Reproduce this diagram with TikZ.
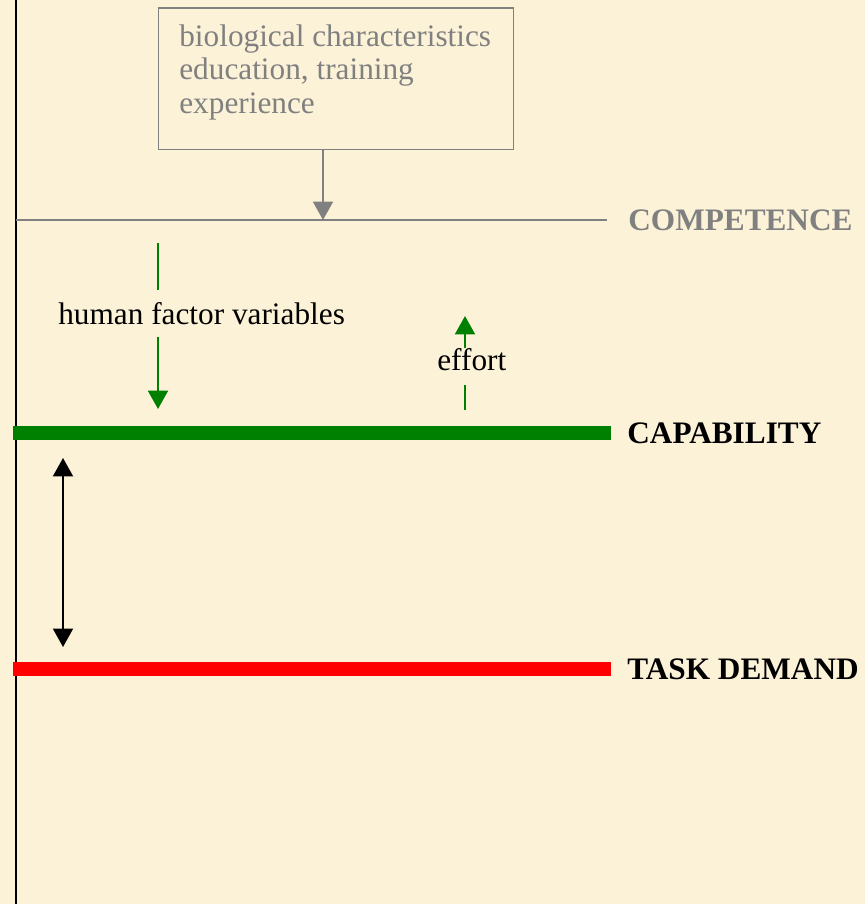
\documentclass[tikz,border=0pt]{standalone}
\usepackage{fontspec}
\setmainfont{Liberation Serif}
\usepackage{xcolor}
\usepackage{tikz}
\usetikzlibrary{arrows.meta,positioning}
\definecolor{parchment}{RGB}{252,242,216}
\definecolor{fadedgray}{RGB}{128,128,128}
\definecolor{capgreen}{RGB}{0,128,0}
\definecolor{taskred}{RGB}{255,0,0}

\begin{document}
\begin{tikzpicture}[
    x=0.02cm, y=-0.02cm,
    every node/.style={font=\fontsize{17.8}{19.3}\selectfont},
    level/.style={anchor=west, inner sep=0pt, font=\bfseries\fontsize{17.8}{19.3}\selectfont},
    sourcebox/.style={draw=fadedgray, line width=0.85pt, anchor=north west, minimum width=7.1cm, minimum height=2.84cm, inner sep=0pt},
    sourcetext/.style={anchor=north west, align=left, inner sep=0pt, text=fadedgray, font=\fontsize{17.8}{19.3}\selectfont},
    inlinelabel/.style={anchor=base west, inner xsep=0pt},
    greyline/.style={draw=fadedgray, line width=1.1pt},
    greenline/.style={draw=capgreen, line width=1.2pt},
    bar/.style={line width=8.4pt, line join=round},
    arrow/.style={-{Triangle[length=10.5pt, width=11.4pt]}},
    twoway/.style={{Triangle[length=10.5pt, width=11.4pt]}-{Triangle[length=10.5pt, width=11.4pt]}, line width=1.1pt}
]
\fill[parchment] (0,0) rectangle (865,904);
\useasboundingbox (0,0) rectangle (865,904);

\coordinate (axistop) at (16,0);
\coordinate (axisbot) at (16,904);
\draw[line width=1.1pt] (axistop) -- (axisbot);

\coordinate (compL) at (16,220);
\coordinate (compR) at (607,220);
\coordinate (drop) at (323,220);
\coordinate (capL) at (13,433);
\coordinate (capR) at (611,433);
\coordinate (taskL) at (13,669);
\coordinate (taskR) at (611,669);

\node[sourcebox] (traits) at (158,7) {};
\node[sourcetext] (traitstext) at (179,24) {biological characteristics\\education, training\\experience};

\draw[greyline] (compL) -- (compR);
\node[level, text=fadedgray, right=0.42cm of compR] (competence) {COMPETENCE};
\draw[greyline, arrow, fadedgray] (traits.south -| drop) -- (drop);

\coordinate (hfvtop) at (158,243);
\coordinate (hfvtip) at (158,409);
\node[inlinelabel, inner ysep=0.24cm] (hfv) at (58,324) {human factor variables};
\draw[greenline] (hfvtop) -- (hfvtop |- hfv.north);
\draw[greenline, arrow, capgreen] (hfvtop |- hfv.south) -- (hfvtip);

\coordinate (effbase) at (465,410);
\coordinate (efftip) at (465,316);
\node[inlinelabel, inner ysep=0pt, text depth=0.3cm] (effort) at (437,370) {effort};
\draw[greenline] (effbase) -- (effbase |- effort.south);
\draw[greenline, arrow, capgreen] (effbase |- effort.north) -- (efftip);

\draw[bar, capgreen, rounded corners=2pt] (capL) -- (capR);
\node[level, right=0.32cm of capR] (capability) {CAPABILITY};

\draw[bar, taskred] (taskL) -- (taskR);
\node[level, right=0.32cm of taskR] (demand) {TASK DEMAND};

\coordinate (gaptop) at (63,458);
\coordinate (gapbot) at (63,647);
\draw[twoway] (gaptop) -- (gapbot);
\end{tikzpicture}
\end{document}
